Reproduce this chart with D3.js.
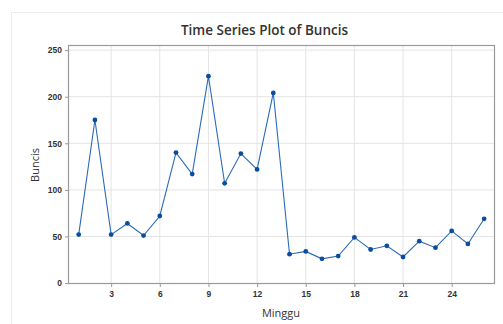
<!DOCTYPE html>
<html>
<head>
<meta charset="utf-8">
<script src="https://cdn.jsdelivr.net/npm/d3@7"></script>
<style>
  body { margin: 0; background: #fff; }
  svg { display: block; font-family: "Open Sans", "Noto Sans", sans-serif; }
</style>
</head>
<body>
<div id="chart-area"></div>
<script>
// Data
var weeks = d3.range(1, 27);
var buncis = [52, 175, 52, 64, 51, 72, 140, 117, 222, 107, 139, 122, 204,
              31, 34, 26, 29, 49, 36, 40, 28, 45, 38, 56, 42, 69];
var xTicks = [3, 6, 9, 12, 15, 18, 21, 24];
var yTicks = [0, 50, 100, 150, 200, 250];

var data = weeks.map(function(w, i) { return {week: w, value: buncis[i]}; });

// Chart config
var W = 503, H = 324;
var plot = {left: 68, right: 495, top: 45, bottom: 284};

var svg = d3.select("#chart-area").append("svg")
    .attr("width", W).attr("height", H);

// outer panel border
svg.append("rect")
    .attr("x", 11.5).attr("y", 12.5)
    .attr("width", 520).attr("height", 340)
    .attr("fill", "#fff")
    .attr("stroke", "#ececec");

var xScale = d3.scaleLinear().domain([0.34, 26.67]).range([plot.left, plot.right]);
var yScale = d3.scaleLinear().domain([-1, 255.5]).range([plot.bottom, plot.top]);

// gridlines
var g = svg.append("g");
g.append("g").selectAll("line").data(xTicks).join("line")
    .attr("x1", function(d) { return xScale(d); })
    .attr("x2", function(d) { return xScale(d); })
    .attr("y1", plot.top).attr("y2", plot.bottom)
    .attr("stroke", "#e4e4e4").attr("stroke-width", 1);
g.append("g").selectAll("line").data(yTicks.slice(1)).join("line")
    .attr("x1", plot.left).attr("x2", plot.right)
    .attr("y1", function(d) { return yScale(d); })
    .attr("y2", function(d) { return yScale(d); })
    .attr("stroke", "#e4e4e4").attr("stroke-width", 1);

// frame
svg.append("rect")
    .attr("x", plot.left + 0.5).attr("y", plot.top + 0.5)
    .attr("width", plot.right - plot.left - 1).attr("height", plot.bottom - plot.top - 1)
    .attr("fill", "none").attr("stroke", "#9a9a9a").attr("stroke-width", 1.2);

// axes
var xAxis = d3.axisBottom(xScale).tickValues(xTicks).tickSize(3).tickPadding(4);
var yAxis = d3.axisLeft(yScale).tickValues(yTicks).tickSize(3).tickPadding(3);

var xAxisEl = svg.append("g")
    .attr("transform", "translate(0," + plot.bottom + ")")
    .call(xAxis);
var yAxisEl = svg.append("g")
    .attr("transform", "translate(" + plot.left + ",0)")
    .call(yAxis);

[xAxisEl, yAxisEl].forEach(function(a) {
    a.select(".domain").remove();
    a.selectAll(".tick line").attr("stroke", "#9a9a9a");
    a.selectAll(".tick text")
        .attr("fill", "#333")
        .style("font-size", "8.5px")
        .style("font-weight", "600");
});

// line + points
var line = d3.line()
    .x(function(d) { return xScale(d.week); })
    .y(function(d) { return yScale(d.value); });

svg.append("path")
    .datum(data)
    .attr("d", line)
    .attr("fill", "none")
    .attr("stroke", "#2a6bb8")
    .attr("stroke-width", 1.1);

svg.append("g").selectAll("circle").data(data).join("circle")
    .attr("cx", function(d) { return xScale(d.week); })
    .attr("cy", function(d) { return yScale(d.value); })
    .attr("r", 2.4)
    .attr("fill", "#0c4c9c");

// titles
svg.append("text")
    .attr("x", 264.5).attr("y", 35)
    .attr("text-anchor", "middle")
    .attr("fill", "#333")
    .style("font-size", "13.5px")
    .style("font-weight", "600")
    .text("Time Series Plot of Buncis");

svg.append("text")
    .attr("x", 281).attr("y", 317)
    .attr("text-anchor", "middle")
    .attr("fill", "#333")
    .style("font-size", "11px")
    .text("Minggu");

svg.append("text")
    .attr("transform", "translate(39,165) rotate(-90)")
    .attr("text-anchor", "middle")
    .attr("fill", "#333")
    .style("font-size", "11px")
    .text("Buncis");
</script>
</body>
</html>
